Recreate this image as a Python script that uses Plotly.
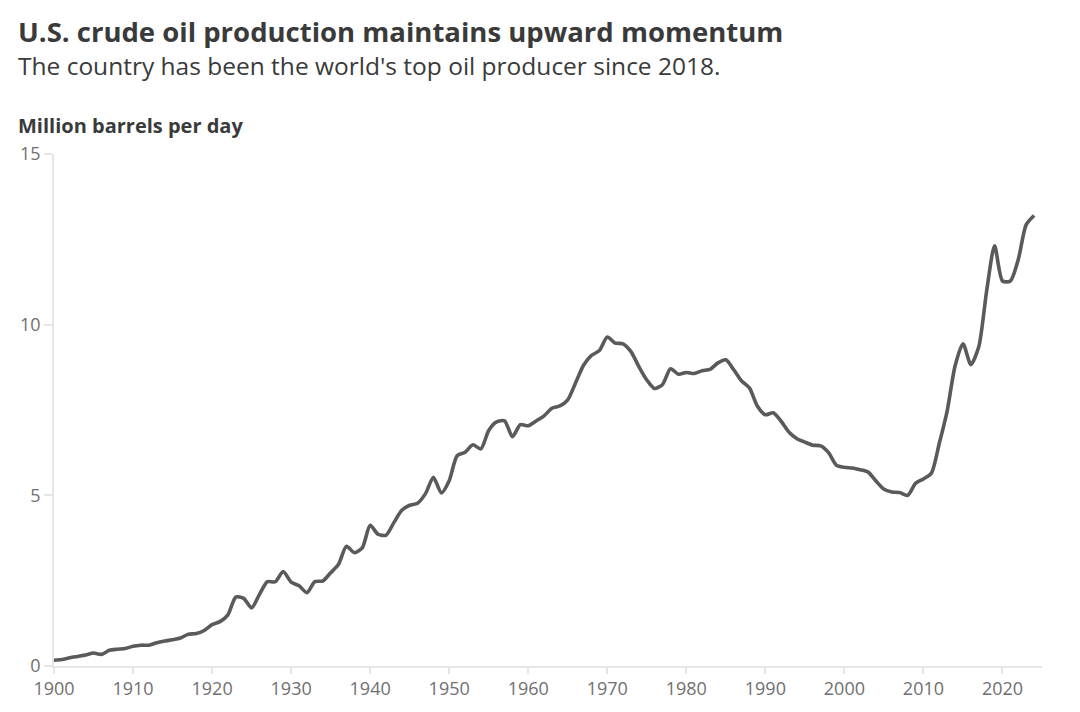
import plotly.graph_objects as go

years = list(range(1900, 2025))
production = [
    0.17, 0.19, 0.24, 0.28, 0.32, 0.38, 0.34, 0.46, 0.49, 0.51,   # 1900-1909
    0.58, 0.61, 0.61, 0.68, 0.73, 0.77, 0.82, 0.93, 0.95, 1.04,   # 1910-1919
    1.21, 1.30, 1.50, 2.02, 1.98, 1.70, 2.10, 2.47, 2.47, 2.77,   # 1920-1929
    2.46, 2.35, 2.15, 2.47, 2.49, 2.73, 2.98, 3.51, 3.32, 3.46,   # 1930-1939
    4.12, 3.86, 3.83, 4.20, 4.56, 4.71, 4.77, 5.05, 5.53, 5.07,   # 1940-1949
    5.43, 6.16, 6.26, 6.48, 6.36, 6.90, 7.15, 7.18, 6.72, 7.07,   # 1950-1959
    7.04, 7.18, 7.33, 7.55, 7.62, 7.80, 8.30, 8.81, 9.10, 9.24,   # 1960-1969
    9.64, 9.46, 9.44, 9.21, 8.77, 8.38, 8.13, 8.25, 8.71, 8.55,   # 1970-1979
    8.60, 8.57, 8.65, 8.69, 8.88, 8.97, 8.68, 8.35, 8.14, 7.61,   # 1980-1989
    7.36, 7.42, 7.17, 6.85, 6.66, 6.56, 6.47, 6.45, 6.25, 5.88,   # 1990-1999
    5.82, 5.80, 5.75, 5.68, 5.42, 5.18, 5.10, 5.08, 5.00, 5.35,   # 2000-2009
    5.48, 5.65, 6.52, 7.47, 8.79, 9.44, 8.83, 9.35, 10.99, 12.31, # 2010-2019
    11.28, 11.28, 11.91, 12.93, 13.20,                            # 2020-2024
]

x_ticks = [1900, 1910, 1920, 1930, 1940, 1950, 1960, 1970, 1980, 1990, 2000, 2010, 2020]
y_ticks = [0, 5, 10, 15]

title = "U.S. crude oil production maintains upward momentum"
subtitle = "The country has been the world's top oil producer since 2018."
y_title = "Million barrels per day"

# page is drawn with an 8px body margin; figure sized to fit the window
FIG_W, FIG_H = 1072, 704
OFF = 8
L, R, T, B = 40, 38, 146, 42

fig = go.Figure()
fig.add_trace(go.Scatter(
    x=years, y=production, mode="lines",
    line=dict(color="#5a5a5a", width=3.6, shape="spline", smoothing=0.7),
    hoverinfo="x+y", showlegend=False,
))

axis_grey = "#e6e6e6"
tick_font = dict(family="Open Sans, sans-serif", size=18, color="#707070")

fig.update_layout(
    width=FIG_W, height=FIG_H,
    margin=dict(l=L, r=R, t=T, b=B),
    paper_bgcolor="white", plot_bgcolor="white",
    xaxis=dict(
        range=[1900, 2025], tickvals=x_ticks, showgrid=False, zeroline=False,
        showline=True, linecolor=axis_grey, linewidth=1.5,
        ticks="outside", ticklen=6, tickcolor=axis_grey, tickwidth=1.5,
        tickfont=tick_font, fixedrange=True,
    ),
    yaxis=dict(
        range=[0, 15], tickvals=y_ticks, showgrid=False, zeroline=False,
        showline=True, linecolor=axis_grey, linewidth=1.5,
        ticks="outside", ticklen=8, tickcolor=axis_grey, tickwidth=1.5,
        tickfont=tick_font, fixedrange=True,
    ),
)

plot_w = FIG_W - L - R
plot_h = FIG_H - T - B


def add_text(text, page_x, page_y, size, bold):
    fx = page_x - OFF
    fy = page_y - OFF
    fig.add_annotation(
        text=("<b>" + text + "</b>") if bold else text,
        x=(fx - L) / plot_w, y=(FIG_H - fy - B) / plot_h,
        xref="paper", yref="paper", showarrow=False,
        xanchor="left", yanchor="middle",
        font=dict(family="Open Sans, sans-serif", size=size, color="#3a3a3a"),
    )


add_text(title, 10, 30.5, 27.5, True)
add_text(subtitle, 10, 65, 24.5, False)
add_text(y_title, 10, 125, 20, True)

fig.write_html("out.html")
